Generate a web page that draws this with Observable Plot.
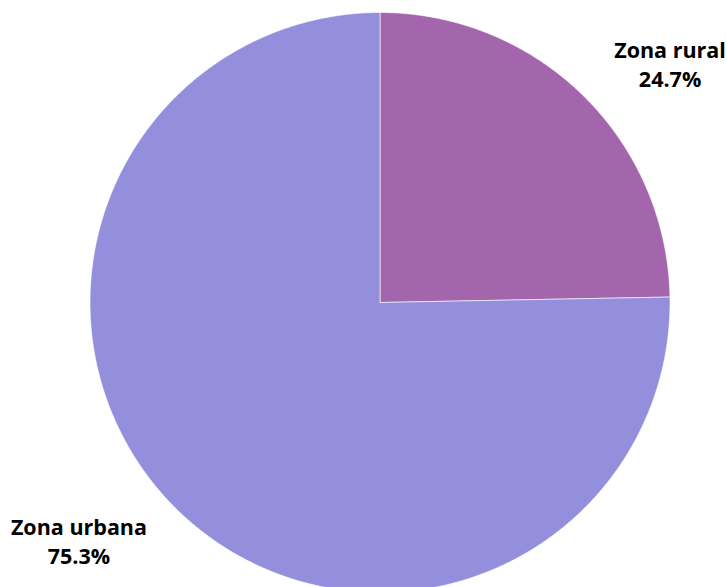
<!DOCTYPE html>
<html><head><meta charset="utf-8">
<script src="https://cdn.jsdelivr.net/npm/d3@7"></script>
<script src="https://cdn.jsdelivr.net/npm/@observablehq/plot@0.6"></script>
<style>
html,body{margin:0;padding:0;background:#fff;}
#chart svg{display:block;}
</style>
</head><body>
<div id="chart"></div>
<script>
const categories = ["Zona rural", "Zona urbana"];
const values = [24.7, 75.3];
const colors = ["#A366AD", "#948FDC"];

const pie = d3.pie().sort(null).value(d => d.value);
const arcs = pie(categories.map((c, i) => ({category: c, value: values[i]})));

// polygon points for each slice (unit circle, angle clockwise from top)
const pts = [];
for (const a of arcs) {
  const n = Math.max(2, Math.ceil((a.endAngle - a.startAngle) / 0.005));
  pts.push({category: a.data.category, x: 0, y: 0});
  for (let k = 0; k <= n; k++) {
    const t = a.startAngle + (a.endAngle - a.startAngle) * k / n;
    pts.push({category: a.data.category, x: Math.sin(t), y: Math.cos(t)});
  }
  pts.push({category: a.data.category, x: 0, y: 0});
}

const labels = arcs.map(a => {
  const m = (a.startAngle + a.endAngle) / 2;
  return {category: a.data.category, value: a.data.value,
          x: Math.sin(m) * 1.3, y: Math.cos(m) * 1.3, right: Math.sin(m) > 0};
});
const textOf = d => d.category + "\n" + d.value.toFixed(1) + "%";
const textOpts = {x: "x", y: "y", text: textOf, lineHeight: 1.37, fontSize: 21.5,
  fontWeight: "bold", fill: "#000", textAnchor: "middle"};

const chart = Plot.plot({
  width: 726, height: 587,
  margin: 0,
  x: {domain: [-1, 1], range: [89.5, 669.5], axis: null},
  y: {domain: [-1, 1], range: [592, 12], axis: null},
  color: {domain: categories, range: colors},
  style: {fontFamily: "'Open Sans', sans-serif"},
  marks: [
    Plot.line(pts, {x: "x", y: "y", z: "category", fill: "category", stroke: "#ffffff", strokeWidth: 1, strokeOpacity: 0.6, curve: "linear"}),
    Plot.text(labels.filter(d => d.right), {...textOpts, dx: 26, dy: 29.5}),
    Plot.text(labels.filter(d => !d.right), {...textOpts, dx: -37, dy: -31.5})
  ]
});
document.getElementById("chart").appendChild(chart);
</script>
</body></html>
